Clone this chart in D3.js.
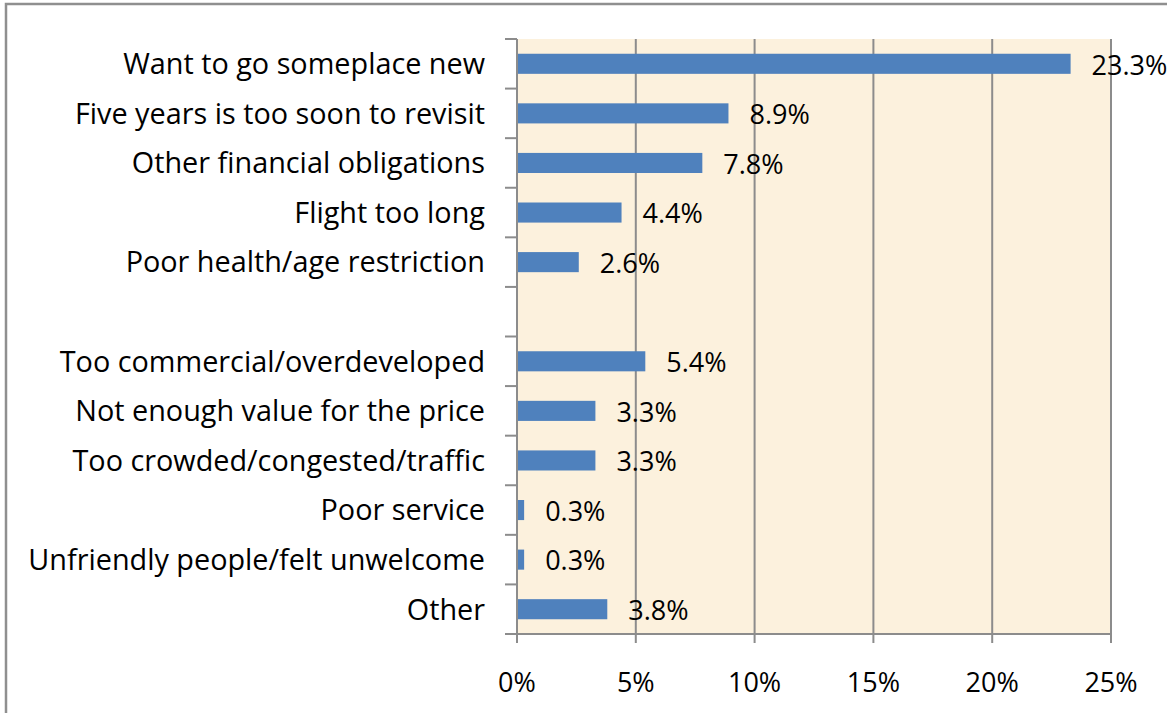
<!DOCTYPE html>
<html>
<head>
<meta charset="utf-8">
<script src="https://cdn.jsdelivr.net/npm/d3@7"></script>
<style>
  body { margin: 0; background: #fff; }
  text { font-family: "Open Sans", "Noto Sans", sans-serif; fill: #000; }
</style>
</head>
<body>
<svg id="chart" width="1167" height="713"></svg>
<script>
// reasons for not returning, share of respondents (%)
let categories = ["Want to go someplace new", "Five years is too soon to revisit", "Other financial obligations",
  "Flight too long", "Poor health/age restriction", "",
  "Too commercial/overdeveloped", "Not enough value for the price", "Too crowded/congested/traffic",
  "Poor service", "Unfriendly people/felt unwelcome", "Other"]
let values = [23.3, 8.9, 7.8, 4.4, 2.6, null, 5.4, 3.3, 3.3, 0.3, 0.3, 3.8]
let xticks = [0, 5, 10, 15, 20, 25]

let svg = d3.select("#chart")
let plotLeft = 517, plotRight = 1111, plotTop = 39, plotBottom = 634
let axisColor = "#8c8c8c"

// outer chart border (runs off the page on the right and bottom)
svg.append("rect")
  .attr("x", 6).attr("y", 4).attr("width", 1200).attr("height", 760)
  .attr("fill", "#fff").attr("stroke", "#8f8f8f").attr("stroke-width", 2.5)

let x = d3.scaleLinear().domain([0, 25]).range([plotLeft, plotRight])
let y = d3.scaleBand().domain(d3.range(categories.length)).range([plotTop, plotBottom])
  .paddingInner(0.595).paddingOuter(0.2975)

// plot background
svg.append("rect")
  .attr("x", plotLeft).attr("y", plotTop).attr("width", plotRight - plotLeft).attr("height", plotBottom - plotTop)
  .attr("fill", "#fcf1dd")

// gridlines
svg.append("g").selectAll("line")
  .data(xticks.slice(1))
  .join("line")
  .attr("x1", d => x(d)).attr("x2", d => x(d))
  .attr("y1", plotTop).attr("y2", plotBottom + 9)
  .attr("stroke", axisColor).attr("stroke-width", 2)

let rows = values.map((v, i) => ({v: v, i: i})).filter(d => d.v != null)

// bars
svg.append("g").selectAll("rect")
  .data(rows)
  .join("rect")
  .attr("x", x(0))
  .attr("y", d => y(d.i))
  .attr("width", d => x(d.v) - x(0))
  .attr("height", y.bandwidth())
  .attr("fill", "#4f81bd")

// value labels
svg.append("g").selectAll("text")
  .data(rows)
  .join("text")
  .attr("x", d => x(d.v) + 21)
  .attr("y", d => y(d.i) + y.bandwidth() / 2 + 1)
  .attr("dy", "0.36em")
  .style("font-size", "27px")
  .text(d => d.v.toFixed(1) + "%")

// y axis line + ticks at band boundaries
let step = y.step()
svg.append("line")
  .attr("x1", plotLeft).attr("x2", plotLeft).attr("y1", plotTop).attr("y2", plotBottom + 9)
  .attr("stroke", axisColor).attr("stroke-width", 2)
svg.append("g").selectAll("line")
  .data(d3.range(categories.length + 1))
  .join("line")
  .attr("x1", plotLeft - 12).attr("x2", plotLeft)
  .attr("y1", i => plotTop + i * step).attr("y2", i => plotTop + i * step)
  .attr("stroke", axisColor).attr("stroke-width", 2)

// category labels
svg.append("g").selectAll("text")
  .data(categories)
  .join("text")
  .attr("x", plotLeft - 32)
  .attr("y", (d, i) => y(i) + y.bandwidth() / 2)
  .attr("dy", "0.36em")
  .attr("text-anchor", "end")
  .style("font-size", "28.8px")
  .text(d => d)

// x axis
svg.append("line")
  .attr("x1", plotLeft - 12).attr("x2", plotRight).attr("y1", plotBottom).attr("y2", plotBottom)
  .attr("stroke", axisColor).attr("stroke-width", 2)
svg.append("g").selectAll("text")
  .data(xticks)
  .join("text")
  .attr("x", d => x(d))
  .attr("y", 692)
  .attr("text-anchor", "middle")
  .style("font-size", "27px")
  .text(d => d + "%")
</script>
</body>
</html>
